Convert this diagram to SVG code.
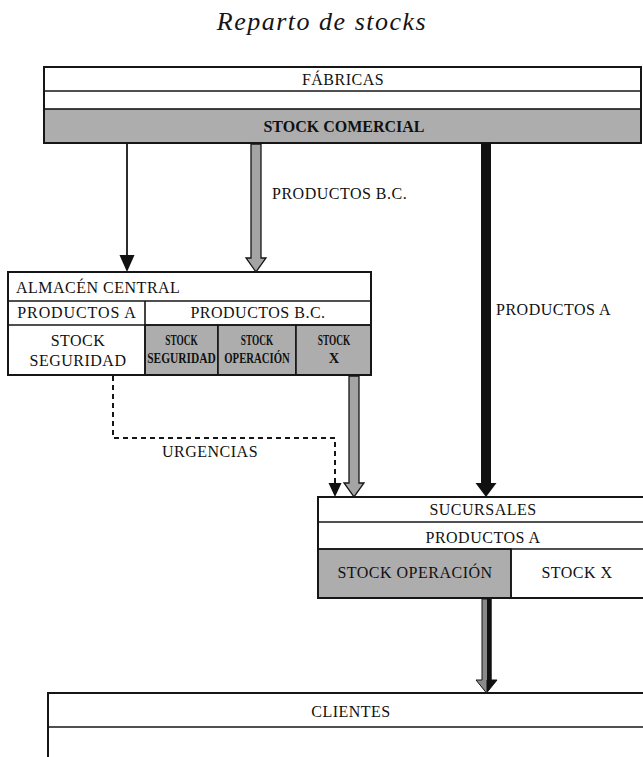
<svg xmlns="http://www.w3.org/2000/svg" width="643" height="757" viewBox="0 0 643 757">
  <style>
    .box { fill: #ffffff; stroke: #161616; stroke-width: 2; }
    .shade { fill: #adadad; stroke: #161616; stroke-width: 1.6; }
    .rule { stroke: #161616; stroke-width: 1.6; fill: none; }
    .t { font-family: "Liberation Serif", "Times New Roman", serif; font-size: 16px; fill: #111111; letter-spacing: 0.5px; }
    .c { text-anchor: middle; }
    .b { font-weight: bold; }
    .sm { font-family: "Liberation Serif", "Times New Roman", serif; font-size: 14.5px; font-weight: bold; fill: #111111; text-anchor: middle; }
    .title { font-family: "Liberation Serif", "Times New Roman", serif; font-size: 26px; font-style: italic; fill: #141414; letter-spacing: 1.5px; text-anchor: middle; }
    .hollow { fill: #a4a4a4; stroke: #161616; stroke-width: 1.3; stroke-linejoin: miter; }
    .solid { fill: #111111; }
    .dash { stroke: #161616; stroke-width: 2; fill: none; stroke-dasharray: 5 4; }
  </style>

  <g id="title">
    <text class="title" x="322" y="30">Reparto de stocks</text>
  </g>

  <!-- Fábricas: three stacked rows -->
  <g id="fabricas">
    <rect class="box" x="44" y="67" width="597" height="76"/>
    <rect class="shade" x="44" y="109" width="597" height="34"/>
    <line class="rule" x1="44" y1="91" x2="641" y2="91"/>
    <rect x="44" y="67" width="597" height="76" fill="none" stroke="#161616" stroke-width="2"/>
    <text class="t c" x="343" y="85">FÁBRICAS</text>
    <text class="t c b" x="344" y="132" style="letter-spacing:0">STOCK COMERCIAL</text>
  </g>

  <!-- Almacén central -->
  <g id="almacen">
    <rect class="box" x="8" y="272" width="363" height="103"/>
    <rect class="shade" x="145" y="325" width="73" height="50"/>
    <rect class="shade" x="218" y="325" width="78" height="50"/>
    <rect class="shade" x="296" y="325" width="75" height="50"/>
    <line class="rule" x1="8" y1="301" x2="371" y2="301"/>
    <line class="rule" x1="8" y1="325" x2="371" y2="325"/>
    <line class="rule" x1="145" y1="301" x2="145" y2="375"/>
    <rect x="8" y="272" width="363" height="103" fill="none" stroke="#161616" stroke-width="2"/>
    <text class="t" x="16" y="293">ALMACÉN CENTRAL</text>
    <text class="t c" x="77" y="318" style="letter-spacing:0.9px">PRODUCTOS A</text>
    <text class="t c" x="258" y="318">PRODUCTOS B.C.</text>
    <text class="t c" x="78" y="346">STOCK</text>
    <text class="t c" x="78" y="366">SEGURIDAD</text>
    <!-- condensed bold labels in the shaded cells -->
    <text class="sm" transform="translate(181.5,345) scale(0.64,1)">STOCK</text>
    <text class="sm" transform="translate(181.5,363) scale(0.79,1)">SEGURIDAD</text>
    <text class="sm" transform="translate(257,345) scale(0.64,1)">STOCK</text>
    <text class="sm" transform="translate(257,363) scale(0.74,1)">OPERACIÓN</text>
    <text class="sm" transform="translate(334,345) scale(0.64,1)">STOCK</text>
    <text class="sm" x="334" y="363">X</text>
  </g>

  <!-- Sucursales -->
  <g id="sucursales">
    <rect class="box" x="318" y="497" width="330" height="101"/>
    <rect class="shade" x="318" y="549" width="193" height="49"/>
    <line class="rule" x1="318" y1="522" x2="648" y2="522"/>
    <line class="rule" x1="318" y1="549" x2="648" y2="549"/>
    <line class="rule" x1="511" y1="549" x2="511" y2="598"/>
    <rect x="318" y="497" width="330" height="101" fill="none" stroke="#161616" stroke-width="2"/>
    <text class="t c" x="483" y="515">SUCURSALES</text>
    <text class="t c" x="483" y="543">PRODUCTOS A</text>
    <text class="t c" x="415" y="578">STOCK OPERACIÓN</text>
    <text class="t c" x="577" y="578">STOCK X</text>
  </g>

  <!-- Clientes -->
  <g id="clientes">
    <rect class="box" x="48" y="693" width="600" height="80"/>
    <line class="rule" x1="48" y1="727" x2="648" y2="727"/>
    <text class="t c" x="351" y="717">CLIENTES</text>
  </g>

  <!-- Flows between levels -->
  <g id="connectors">
    <!-- fábricas to almacén: producto A (thin) -->
    <line x1="127" y1="143" x2="127" y2="256" stroke="#161616" stroke-width="1.8"/>
    <polygon class="solid" points="119.5,255 134.5,255 127,272"/>

    <!-- fábricas to almacén: productos B.C. (hollow) -->
    <polygon class="hollow" points="251,144 261,144 261,258 266,258 256,272 246,258 251,258"/>
    <text class="t" x="272" y="199">PRODUCTOS B.C.</text>

    <!-- fábricas to sucursales: productos A (heavy) -->
    <rect class="solid" x="481" y="143" width="10" height="341"/>
    <polygon class="solid" points="475.5,483 496.5,483 486,497"/>
    <text class="t" x="496" y="315">PRODUCTOS A</text>

    <!-- almacén to sucursales: urgencias (dashed) -->
    <path class="dash" d="M113,376 V438 H335 V484"/>
    <polygon class="solid" points="328.5,483 341.5,483 335,497"/>
    <text class="t" x="162" y="457">URGENCIAS</text>

    <!-- almacén stock X to sucursales (hollow) -->
    <polygon class="hollow" points="349,376 359,376 359,483 364,483 354,497 344,483 349,483"/>

    <!-- sucursales to clientes -->
    <polygon points="482,599 491,599 491,680 497,680 486.5,693 476,680 482,680" fill="#8a8a8a" stroke="#161616" stroke-width="1"/>
    <rect class="solid" x="487" y="599" width="4.5" height="83"/>
    <polygon class="solid" points="486.5,680 497,680 486.5,693"/>
  </g>
</svg>
